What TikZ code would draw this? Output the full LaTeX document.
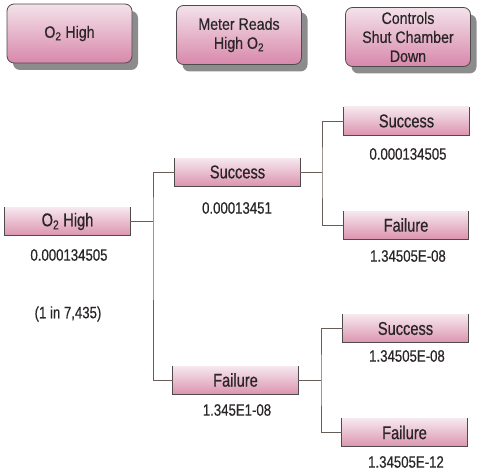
\documentclass[tikz,border=0pt]{standalone}
\usepackage{fontspec}
\setmainfont{Liberation Sans}[FakeStretch=0.85]
\newfontfamily\headfont{Liberation Sans}[FakeStretch=0.86,FakeBold=0.5]
\newfontfamily\barfont{Liberation Sans}[FakeStretch=0.79,FakeBold=0.6]
\newfontfamily\valfont{Liberation Sans}[FakeStretch=0.8,FakeBold=0.5]
\usetikzlibrary{shadows}
\definecolor{pinkT}{HTML}{F6E8EE}
\definecolor{pinkB}{HTML}{DC94AF}
\definecolor{hpinkT}{HTML}{F3E2E9}
\definecolor{hpinkB}{HTML}{D888AB}
\definecolor{edge}{HTML}{4F4A4C}
\definecolor{wire}{HTML}{6A5C58}
\definecolor{ink}{HTML}{2A2628}
\tikzset{
  header/.style={rounded corners=7pt, draw=edge, line width=0.8pt,
    top color=hpinkT, bottom color=hpinkB,
    minimum width=125pt, minimum height=59pt, align=center,
    font=\headfont\fontsize{16.5}{19}\selectfont, text=ink,
    drop shadow={shadow xshift=6pt, shadow yshift=-7pt, fill=gray!80!black, opacity=0.75}},
  bar/.style={top color=pinkT, bottom color=pinkB, inner sep=0pt,
    minimum width=125pt, minimum height=28pt,
    font=\barfont\fontsize{18.5}{20}\selectfont, text=ink},
  val/.style={font=\valfont\fontsize{16.5}{18}\selectfont, text=ink, inner sep=0pt},
  barline/.style={draw=edge, line width=1pt},
  wireline/.style={draw=wire, line width=0.9pt}
}
\begin{document}
\begin{tikzpicture}[x=1pt,y=-1pt]
\useasboundingbox (0,0) rectangle (481,473);
% headers
\node[header] (h1) at (69.5,33.5) {O\textsubscript{2} High};
\node[header] (h2) at (239,35) {Meter Reads\\High O\textsubscript{2}};
\node[header] (h3) at (408,37) {Controls\\Shut Chamber\\Down};
% bars
\node[bar] (b0) at (67.5,221.5) {O\textsubscript{2} High};
\node[bar] (s1) at (237.5,172) {Success};
\node[bar] (f1) at (235.5,380) {Failure};
\node[bar] (ss) at (406.5,121) {Success};
\node[bar] (sf) at (406,225) {Failure};
\node[bar] (fs) at (405.5,328.5) {Success};
\node[bar] (ff) at (404.5,432.5) {Failure};
\foreach \n in {b0,s1,f1,ss,sf,fs,ff}{
  \draw[barline] (\n.north west) -- (\n.south west) -- (\n.south east) -- (\n.north east);
}
% values
\node[val] (v0) at (69,255) {0.000134505};
\node[val] (v0b) at (68,314) {(1 in 7,435)};
\node[val] (v1) at (237,208) {0.00013451};
\node[val] (v2) at (237,410) {1.345E1-08};
\node[val] (v3) at (408,154) {0.000134505};
\node[val] (v4) at (408,256) {1.34505E-08};
\node[val] (v5) at (407,356) {1.34505E-08};
\node[val] (v6) at (406,462) {1.34505E-12};
% connectors
\coordinate (j0) at (153,221.5);
\coordinate (j1) at (322,172);
\coordinate (j2) at (321,380);
\draw[wireline] (b0.east) -- (j0);
\draw[wireline] (s1.west) -| (j0) |- (f1.west);
\draw[wireline] (s1.east) -- (j1);
\draw[wireline] (ss.west) -| (j1) |- (sf.west);
\draw[wireline] (f1.east) -- (j2);
\draw[wireline] (fs.west) -| (j2) |- (ff.west);
\end{tikzpicture}
\end{document}
